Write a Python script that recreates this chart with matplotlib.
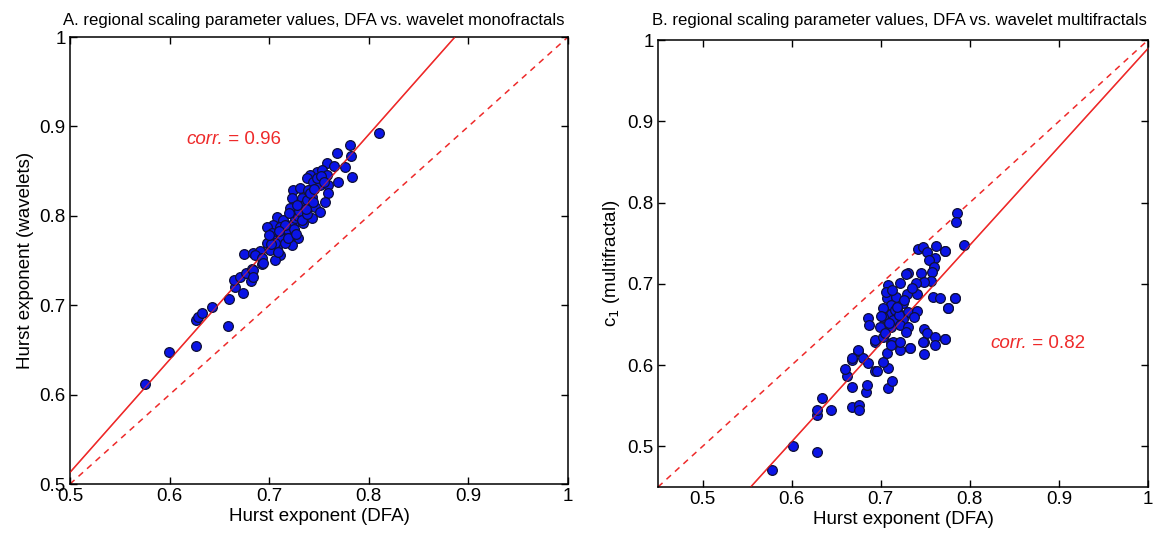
import numpy as np
import matplotlib
matplotlib.use("Agg")
import matplotlib.pyplot as plt

plt.rcParams["font.family"] = ["Liberation Sans", "DejaVu Sans"]

# panel A: DFA vs wavelet monofractal Hurst exponents
dfa_a = [0.575, 0.599, 0.627, 0.659, 0.627, 0.629, 0.633, 0.643, 0.660, 0.674,
         0.666, 0.665, 0.671, 0.682, 0.677, 0.683, 0.693, 0.675, 0.684, 0.691,
         0.810, 0.781, 0.768, 0.782, 0.758, 0.765, 0.776, 0.783, 0.769, 0.748,
         0.753, 0.741, 0.738, 0.758, 0.744, 0.751, 0.759, 0.724, 0.731, 0.739,
         0.759, 0.723, 0.733, 0.743, 0.756, 0.724, 0.736, 0.746, 0.721, 0.751,
         0.733, 0.743, 0.708, 0.714, 0.726, 0.734, 0.704, 0.698, 0.711, 0.719,
         0.703, 0.713, 0.723, 0.729, 0.721, 0.723, 0.704, 0.698, 0.708, 0.701,
         0.711, 0.686, 0.693, 0.706, 0.694, 0.684, 0.684,
         0.715, 0.718, 0.722, 0.726, 0.729, 0.712, 0.706, 0.709, 0.716, 0.719,
         0.735, 0.738, 0.741, 0.745, 0.730, 0.702, 0.725, 0.733, 0.728, 0.748,
         0.752, 0.755, 0.744, 0.738, 0.716, 0.720, 0.710, 0.727, 0.737, 0.700]
wav_a = [0.612, 0.648, 0.654, 0.677, 0.683, 0.687, 0.691, 0.698, 0.707, 0.714,
         0.720, 0.728, 0.731, 0.727, 0.736, 0.740, 0.746, 0.757, 0.758, 0.761,
         0.893, 0.879, 0.870, 0.867, 0.859, 0.856, 0.855, 0.843, 0.838, 0.849,
         0.851, 0.846, 0.842, 0.846, 0.838, 0.834, 0.834, 0.829, 0.831, 0.829,
         0.825, 0.820, 0.820, 0.821, 0.815, 0.810, 0.810, 0.810, 0.809, 0.804,
         0.801, 0.798, 0.799, 0.795, 0.793, 0.792, 0.790, 0.787, 0.787, 0.787,
         0.781, 0.781, 0.782, 0.775, 0.771, 0.767, 0.773, 0.770, 0.765, 0.762,
         0.756, 0.756, 0.753, 0.751, 0.747, 0.739, 0.731,
         0.780, 0.785, 0.790, 0.797, 0.800, 0.775, 0.770, 0.760, 0.770, 0.775,
         0.812, 0.818, 0.825, 0.830, 0.805, 0.768, 0.785, 0.795, 0.812, 0.842,
         0.845, 0.838, 0.815, 0.802, 0.790, 0.803, 0.783, 0.780, 0.808, 0.778]

# panel B: DFA vs multifractal c1
dfa_b = [0.578, 0.601, 0.629, 0.629, 0.629, 0.634, 0.644, 0.668, 0.676, 0.676,
         0.668, 0.683, 0.684, 0.662, 0.660, 0.668, 0.675, 0.680, 0.686, 0.694,
         0.696, 0.708, 0.713, 0.708, 0.702, 0.694, 0.707, 0.711, 0.722, 0.733,
         0.748, 0.748, 0.714,
         0.762, 0.772, 0.742, 0.747, 0.752, 0.761, 0.754, 0.760, 0.758, 0.745,
         0.731, 0.728, 0.756, 0.748, 0.739, 0.722, 0.708, 0.741, 0.730, 0.759,
         0.767, 0.783, 0.776, 0.707, 0.717, 0.711, 0.703, 0.725, 0.731, 0.741,
         0.719, 0.711, 0.703, 0.714, 0.725, 0.737, 0.686, 0.687, 0.699, 0.711,
         0.722, 0.731, 0.728, 0.748, 0.752, 0.761, 0.772, 0.761, 0.747, 0.694,
         0.703, 0.711, 0.722, 0.733, 0.675, 0.668,
         0.786, 0.785, 0.793, 0.772, 0.783, 0.776, 0.772,
         0.716, 0.720, 0.706, 0.713, 0.726, 0.709, 0.718, 0.700, 0.735, 0.705]
c1_b = [0.471, 0.500, 0.493, 0.539, 0.545, 0.560, 0.545, 0.548, 0.551, 0.545,
        0.573, 0.567, 0.576, 0.586, 0.595, 0.606, 0.617, 0.609, 0.603, 0.593,
        0.593, 0.572, 0.580, 0.597, 0.604, 0.628, 0.615, 0.627, 0.619, 0.621,
        0.614, 0.628, 0.628,
        0.747, 0.740, 0.743, 0.745, 0.739, 0.732, 0.729, 0.721, 0.714, 0.713,
        0.713, 0.712, 0.704, 0.702, 0.701, 0.701, 0.698, 0.688, 0.688, 0.684,
        0.682, 0.682, 0.670, 0.682, 0.684, 0.674, 0.670, 0.676, 0.665, 0.667,
        0.665, 0.663, 0.659, 0.655, 0.657, 0.659, 0.658, 0.649, 0.647, 0.647,
        0.649, 0.647, 0.641, 0.644, 0.640, 0.635, 0.632, 0.625, 0.628, 0.631,
        0.635, 0.625, 0.628, 0.621, 0.619, 0.609,
        0.787, 0.776, 0.748, 0.741, 0.683, 0.670, 0.632,
        0.668, 0.662, 0.690, 0.692, 0.680, 0.652, 0.672, 0.660, 0.695, 0.640]

# fitted lines (x0, y0, slope)
fit_a = (0.5, 0.513, 1.26)
fit_b = (0.554, 0.45, 1.21)

RED = "#ee2a2a"


def panel(ax, x, y, fit, lim, corr, corr_xy, ylabel):
    lo, hi = lim
    ax.plot([lo, hi], [lo, hi], "--", color=RED, lw=1.1, dashes=(4, 3.5), zorder=1)
    x0, y0, k = fit
    xe = x0 + (hi - y0) / k
    ax.plot([x0, xe], [y0, hi], "-", color=RED, lw=1.1, zorder=1)
    ax.plot(x, y, "o", ms=7, mfc="#0a14e6", mec="#101038", mew=0.9, zorder=2)
    ax.plot([x0, xe], [y0, hi], "-", color=RED, lw=0.8, alpha=0.7, zorder=3)
    ax.set_xlim(lo, hi)
    ax.set_ylim(lo, hi)
    t = [0.5, 0.6, 0.7, 0.8, 0.9, 1.0]
    lab = ["0.5", "0.6", "0.7", "0.8", "0.9", "1"]
    ax.set_xticks(t, lab)
    ax.set_yticks(t, lab)
    ax.tick_params(direction="in", top=True, right=True, length=5, width=1,
                   labelsize=13.5, pad=3)
    for s in ax.spines.values():
        s.set_linewidth(1.1)
    ax.set_xlabel("Hurst exponent (DFA)", fontsize=13.5, labelpad=2)
    ax.set_ylabel(ylabel, fontsize=13.5, labelpad=4)
    c = ax.text(corr_xy[0], corr_xy[1], "corr.", color=RED, fontsize=13.5,
                style="italic", ha="left", va="center")
    ax.annotate(f" = {corr}", xy=(1, 0.5), xycoords=c, color=RED,
                fontsize=13.5, va="center", ha="left")


fig = plt.figure(figsize=(11.53, 5.34), dpi=100)
ax1 = fig.add_axes([0.0607, 0.0936, 0.4319, 0.8371])
ax2 = fig.add_axes([0.5707, 0.088, 0.4250, 0.837])

panel(ax1, dfa_a, wav_a, fit_a, (0.5, 1.0), "0.96", (0.617, 0.885),
      "Hurst exponent (wavelets)")
panel(ax2, dfa_b, c1_b, fit_b, (0.45, 1.0), "0.82", (0.823, 0.627),
      "c$_1$ (multifractal)")

fig.text(0.0546, 0.962, "A. regional scaling parameter values, DFA vs. wavelet monofractals",
         fontsize=12.1, ha="left", va="center")
fig.text(0.5655, 0.962, "B. regional scaling parameter values, DFA vs. wavelet multifractals",
         fontsize=12.1, ha="left", va="center")

fig.savefig("out.png", dpi=100)
